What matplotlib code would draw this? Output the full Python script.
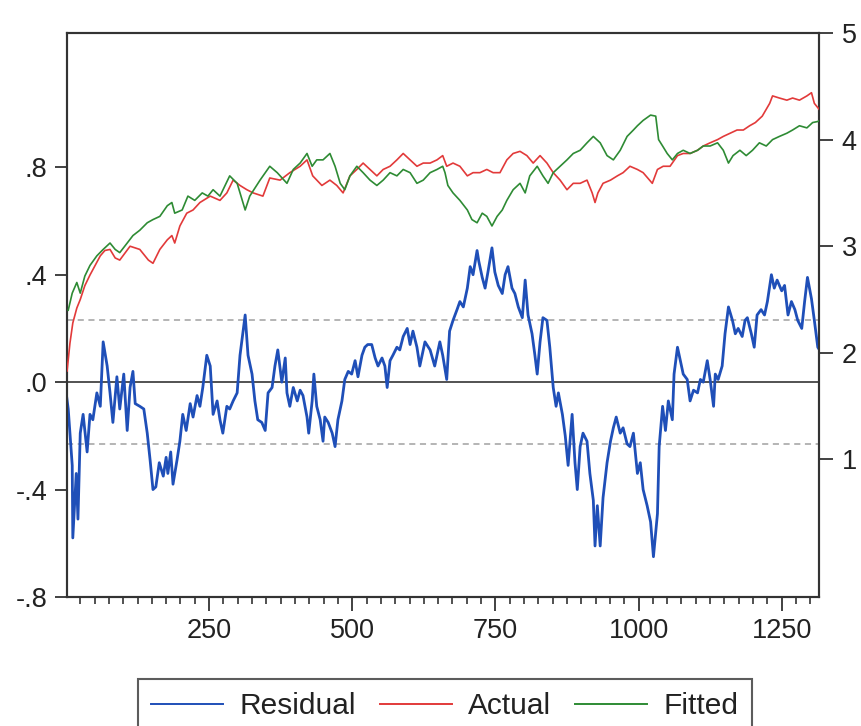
import matplotlib
matplotlib.use("Agg")
import matplotlib.pyplot as plt
from matplotlib.lines import Line2D
from matplotlib.ticker import MultipleLocator, FixedLocator

plt.rcParams['font.family'] = ['Liberation Sans', 'DejaVu Sans']

# ---------------- data ----------------
resid_obs = [1, 4, 11, 12, 18, 21, 25, 30, 37, 42,
             47, 54, 60, 65, 72, 77, 82, 89, 94, 101,
             107, 112, 117, 121, 129, 136, 142, 147, 152, 157,
             163, 170, 175, 178, 183, 187, 194, 199, 204, 210,
             217, 222, 229, 234, 239, 246, 252, 257, 264, 269,
             274, 281, 286, 292, 299, 304, 313, 318, 325, 330,
             335, 342, 348, 353, 360, 365, 370, 377, 383, 386,
             391, 397, 404, 409, 414, 421, 424, 430, 433, 438,
             444, 449, 452, 458, 465, 470, 475, 482, 487, 493,
             499, 505, 510, 517, 522, 527, 534, 540, 545, 552,
             557, 561, 566, 571, 578, 583, 589, 596, 601, 606,
             613, 618, 627, 636, 644, 653, 658, 665, 670, 676,
             683, 688, 694, 701, 706, 711, 718, 721, 727, 732,
             737, 744, 749, 755, 762, 767, 772, 779, 784, 790,
             797, 802, 807, 814, 819, 823, 828, 833, 840, 845,
             851, 856, 860, 867, 872, 877, 884, 889, 893, 898,
             903, 910, 915, 921, 924, 928, 933, 938, 945, 951,
             956, 961, 968, 973, 980, 985, 991, 998, 1003, 1008,
             1015, 1021, 1026, 1033, 1036, 1042, 1047, 1052, 1059, 1062,
             1068, 1073, 1078, 1085, 1090, 1096, 1103, 1108, 1113, 1120,
             1125, 1131, 1134, 1139, 1146, 1151, 1157, 1164, 1169, 1174,
             1181, 1186, 1190, 1197, 1202, 1207, 1214, 1220, 1225, 1232,
             1237, 1242, 1250, 1255, 1261, 1267, 1273, 1278, 1285, 1290,
             1295, 1302, 1307, 1313, 1316]
resid_vals = [-0.05, -0.10, -0.31, -0.58, -0.34, -0.51, -0.19, -0.12, -0.26, -0.12,
              -0.14, -0.04, -0.09, 0.15, 0.06, -0.04, -0.15, 0.02, -0.10, 0.03,
              -0.18, -0.02, 0.04, -0.08, -0.09, -0.10, -0.19, -0.29, -0.40, -0.39,
              -0.30, -0.35, -0.28, -0.34, -0.26, -0.38, -0.29, -0.22, -0.12, -0.18,
              -0.08, -0.13, -0.05, -0.09, -0.02, 0.10, 0.06, -0.12, -0.07, -0.14,
              -0.19, -0.09, -0.10, -0.07, -0.04, 0.10, 0.25, 0.10, 0.03, -0.07,
              -0.14, -0.15, -0.18, -0.04, -0.02, 0.06, 0.12, 0.00, 0.09, -0.04,
              -0.09, -0.02, -0.07, -0.03, -0.05, -0.13, -0.19, -0.07, 0.03, -0.09,
              -0.14, -0.22, -0.13, -0.15, -0.19, -0.24, -0.14, -0.07, 0.01, 0.04,
              0.03, 0.08, 0.02, 0.10, 0.13, 0.14, 0.14, 0.09, 0.06, 0.09,
              0.06, -0.02, 0.08, 0.10, 0.13, 0.12, 0.17, 0.20, 0.14, 0.19,
              0.13, 0.06, 0.15, 0.12, 0.06, 0.15, 0.10, 0.01, 0.19, 0.23,
              0.27, 0.30, 0.28, 0.35, 0.43, 0.40, 0.49, 0.45, 0.39, 0.35,
              0.41, 0.50, 0.41, 0.36, 0.33, 0.40, 0.43, 0.35, 0.33, 0.28,
              0.24, 0.38, 0.25, 0.18, 0.10, 0.03, 0.15, 0.24, 0.23, 0.13,
              -0.02, -0.09, -0.04, -0.12, -0.20, -0.31, -0.12, -0.30, -0.40, -0.24,
              -0.19, -0.22, -0.34, -0.44, -0.61, -0.46, -0.61, -0.43, -0.30, -0.22,
              -0.17, -0.13, -0.19, -0.17, -0.23, -0.24, -0.19, -0.34, -0.30, -0.40,
              -0.46, -0.52, -0.65, -0.49, -0.24, -0.09, -0.18, -0.07, -0.14, 0.03,
              0.13, 0.08, 0.03, 0.01, -0.07, -0.03, -0.04, 0.01, 0.00, 0.08,
              0.01, -0.09, 0.03, 0.01, 0.06, 0.18, 0.28, 0.23, 0.18, 0.20,
              0.17, 0.23, 0.24, 0.18, 0.13, 0.25, 0.27, 0.25, 0.30, 0.40,
              0.35, 0.38, 0.34, 0.36, 0.25, 0.30, 0.27, 0.23, 0.20, 0.30,
              0.39, 0.31, 0.23, 0.13, 0.12]

actual_obs = [2, 7, 12, 19, 25, 33, 42, 51, 60, 68,
              77, 86, 94, 112, 129, 144, 152, 164, 177, 185,
              190, 199, 211, 222, 234, 252, 269, 281, 292, 304,
              316, 327, 344, 356, 374, 391, 409, 421, 431, 447,
              461, 473, 484, 496, 508, 519, 531, 543, 554, 566,
              578, 589, 601, 613, 624, 636, 648, 658, 665, 676,
              688, 701, 711, 723, 735, 746, 758, 770, 781, 793,
              805, 816, 828, 840, 851, 863, 875, 886, 898, 910,
              919, 924, 929, 938, 951, 963, 973, 985, 998, 1008,
              1024, 1033, 1043, 1055, 1068, 1078, 1090, 1103, 1113, 1125,
              1138, 1148, 1160, 1172, 1183, 1194, 1204, 1216, 1229, 1234,
              1246, 1259, 1269, 1281, 1294, 1302, 1307, 1313, 1316]
actual_vals = [1.83, 2.09, 2.28, 2.42, 2.50, 2.63, 2.73, 2.82, 2.91, 2.96,
               2.97, 2.89, 2.87, 3.00, 2.97, 2.87, 2.84, 2.97, 3.06, 3.10,
               3.03, 3.19, 3.31, 3.34, 3.41, 3.47, 3.43, 3.50, 3.62, 3.57,
               3.53, 3.50, 3.47, 3.64, 3.62, 3.69, 3.75, 3.81, 3.66, 3.57,
               3.62, 3.57, 3.50, 3.66, 3.72, 3.78, 3.72, 3.66, 3.72, 3.75,
               3.81, 3.87, 3.81, 3.75, 3.78, 3.78, 3.81, 3.85, 3.75, 3.78,
               3.75, 3.66, 3.69, 3.69, 3.72, 3.69, 3.69, 3.81, 3.87, 3.89,
               3.85, 3.78, 3.85, 3.78, 3.69, 3.62, 3.53, 3.59, 3.59, 3.62,
               3.50, 3.41, 3.50, 3.59, 3.62, 3.66, 3.69, 3.75, 3.72, 3.69,
               3.59, 3.72, 3.75, 3.75, 3.85, 3.87, 3.87, 3.90, 3.94, 3.97,
               4.00, 4.03, 4.06, 4.09, 4.09, 4.13, 4.16, 4.22, 4.34, 4.41,
               4.39, 4.37, 4.39, 4.37, 4.41, 4.44, 4.34, 4.30, 4.28]

fitted_obs = [4, 11, 19, 25, 33, 42, 54, 65, 77, 86,
              94, 107, 117, 129, 142, 152, 164, 177, 185, 190,
              203, 213, 225, 238, 248, 257, 269, 286, 299, 313,
              321, 339, 356, 369, 386, 397, 409, 421, 430, 438,
              449, 461, 470, 479, 487, 496, 508, 519, 531, 543,
              554, 566, 578, 589, 601, 613, 624, 636, 648, 658,
              662, 667, 676, 688, 701, 709, 718, 727, 735, 744,
              753, 762, 770, 781, 793, 802, 810, 823, 833, 842,
              851, 863, 875, 886, 898, 910, 921, 933, 945, 956,
              968, 980, 991, 998, 1008, 1021, 1030, 1035, 1042, 1050,
              1059, 1068, 1078, 1090, 1103, 1113, 1125, 1138, 1148, 1157,
              1165, 1177, 1188, 1199, 1211, 1223, 1234, 1246, 1259, 1269,
              1281, 1294, 1304, 1313, 1316]
fitted_vals = [2.40, 2.56, 2.66, 2.56, 2.72, 2.82, 2.91, 2.97, 3.03, 2.97,
               2.94, 3.03, 3.10, 3.15, 3.22, 3.25, 3.28, 3.38, 3.41, 3.31,
               3.34, 3.47, 3.43, 3.50, 3.47, 3.53, 3.47, 3.66, 3.59, 3.34,
               3.47, 3.62, 3.75, 3.69, 3.59, 3.72, 3.78, 3.87, 3.75, 3.81,
               3.81, 3.87, 3.75, 3.59, 3.53, 3.66, 3.75, 3.69, 3.62, 3.57,
               3.62, 3.69, 3.66, 3.72, 3.69, 3.59, 3.62, 3.69, 3.72, 3.75,
               3.69, 3.57, 3.50, 3.43, 3.34, 3.25, 3.22, 3.31, 3.28, 3.19,
               3.28, 3.34, 3.43, 3.53, 3.59, 3.50, 3.66, 3.75, 3.66, 3.59,
               3.69, 3.75, 3.81, 3.87, 3.90, 3.97, 4.03, 3.97, 3.85, 3.81,
               3.90, 4.03, 4.09, 4.13, 4.18, 4.23, 4.22, 4.00, 3.94, 3.87,
               3.81, 3.87, 3.90, 3.87, 3.90, 3.94, 3.94, 3.97, 3.90, 3.78,
               3.85, 3.90, 3.85, 3.90, 3.97, 3.94, 4.00, 4.03, 4.06, 4.09,
               4.13, 4.11, 4.16, 4.17, 4.18]

resid_band = 0.23   # +/- one standard error of the residuals
left_ticks = [-0.8, -0.4, 0.0, 0.4, 0.8]
left_labels = ['-.8', '-.4', '.0', '.4', '.8']
right_ticks = [1, 2, 3, 4, 5]
right_labels = ['1', '2', '3', '4', '5']
x_ticks = [250, 500, 750, 1000, 1250]
series_names = ['Residual', 'Actual', 'Fitted']

# ---------------- styling ----------------
c_res = '#1F4FB8'
c_act = '#E23A3A'
c_fit = '#2E8B34'
c_axis = '#333333'
fs = 19.5

fig = plt.figure(figsize=(8.61, 7.26), dpi=100)
ax = fig.add_axes([0.07724, 0.17769, 0.87456, 0.77686])
ax2 = ax.twinx()

ax.set_xlim(1, 1316)
ax.set_ylim(-0.8, 1.3)
ax2.set_ylim(-0.29, 5.0)

ax.axhline(0, color='#444444', lw=1.3, zorder=1)
for s in (resid_band, -resid_band):
    ax.axhline(s, color='#a0a0a0', lw=1.1, ls=(0, (4, 3)), zorder=1)

ax.plot(resid_obs, resid_vals, color=c_res, lw=2.0, zorder=3)
ax2.plot(actual_obs, actual_vals, color=c_act, lw=1.2, zorder=3)
ax2.plot(fitted_obs, fitted_vals, color=c_fit, lw=1.2, zorder=4)

for a in (ax, ax2):
    for sp in a.spines.values():
        sp.set_color(c_axis)
        sp.set_linewidth(1.5)

ax.yaxis.set_major_locator(FixedLocator(left_ticks))
ax.set_yticklabels(left_labels)
ax2.yaxis.set_major_locator(FixedLocator(right_ticks))
ax2.set_yticklabels(right_labels)
ax.xaxis.set_major_locator(FixedLocator(x_ticks))
ax.xaxis.set_minor_locator(MultipleLocator(25))
ax.set_xticklabels([str(t) for t in x_ticks])

ax.tick_params(axis='y', direction='out', length=9, width=1.3, color=c_axis,
               labelsize=fs, labelcolor='#222222', pad=5)
ax2.tick_params(axis='y', direction='out', length=10, width=1.3, color=c_axis,
                labelsize=fs, labelcolor='#222222', pad=6)
ax.tick_params(axis='x', which='major', direction='out', length=10, width=1.3,
               color=c_axis, labelsize=fs, labelcolor='#222222', pad=5)
ax.tick_params(axis='x', which='minor', direction='out', length=5, width=1.2,
               color=c_axis)

handles = [Line2D([], [], color=c_res, lw=1.4),
           Line2D([], [], color=c_act, lw=1.4),
           Line2D([], [], color=c_fit, lw=1.4)]
leg = fig.legend(handles, series_names, loc='upper left',
                 bbox_to_anchor=(0.1603, 0.0647), ncol=3, fontsize=21.5,
                 frameon=True, fancybox=False, edgecolor='#333333',
                 handlelength=2.4, handletextpad=0.55, columnspacing=0.8,
                 borderpad=0.45, borderaxespad=0.0)
leg.get_frame().set_linewidth(1.5)
for t in leg.get_texts():
    t.set_color('#222222')

fig.savefig('out.png', dpi=100)
